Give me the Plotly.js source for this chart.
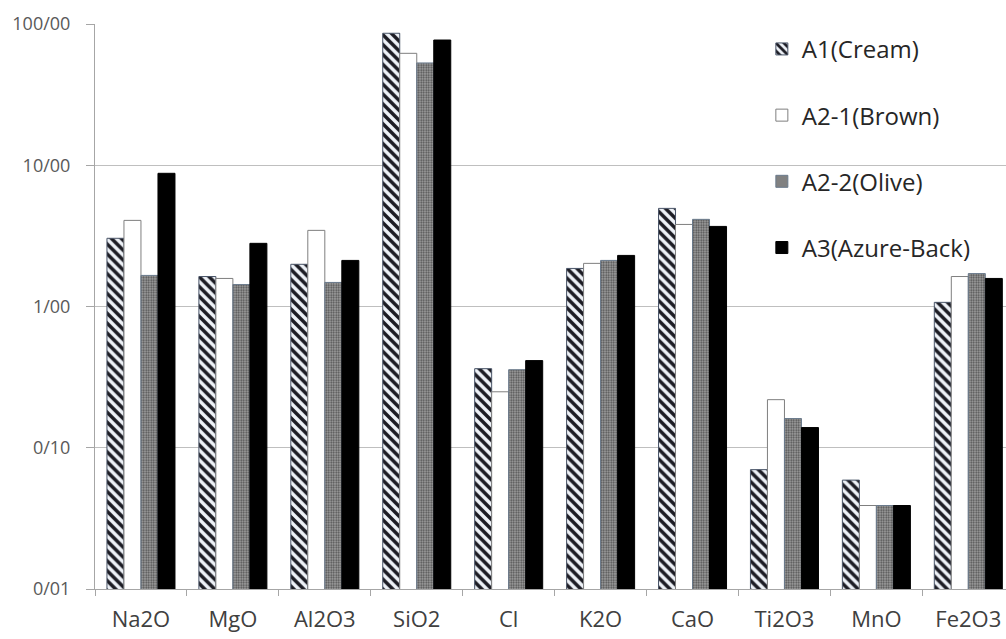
<!DOCTYPE html>
<html>
<head>
<meta charset="utf-8">
<script src="https://cdn.plot.ly/plotly-3.0.1.min.js"></script>
<style>html,body{margin:0;padding:0;background:#fff;}#chart{width:1006px;height:639px;}</style>
</head>
<body>
<div id="chart"></div>
<script>
const categories = ["Na2O", "MgO", "Al2O3", "SiO2", "Cl", "K2O", "CaO", "Ti2O3", "MnO", "Fe2O3"];
const seriesNames = ["A1(Cream)", "A2-1(Brown)", "A2-2(Olive)", "A3(Azure-Back)"];
const a1Cream  = [3.04, 1.63, 1.99, 86.0, 0.363, 1.86, 4.95, 0.070, 0.059, 1.07];
const a21Brown = [4.07, 1.58, 3.46, 62.0, 0.249, 2.02, 3.81, 0.219, 0.039, 1.63];
const a22Olive = [1.66, 1.43, 1.48, 53.0, 0.357, 2.12, 4.14, 0.161, 0.039, 1.71];
const a3Azure  = [8.77, 2.80, 2.12, 77.0, 0.414, 2.30, 3.69, 0.139, 0.039, 1.58];
const yTickVals = [0.01, 0.1, 1, 10, 100];
const yTickText = ["0/01", "0/10", "1/00", "10/00", "100/00"];

const font = "Open Sans, Liberation Sans, sans-serif";
const styles = [
  {color: "#eef2f8", line: {color: "#4a5568", width: 1}, pattern: {shape: "\\", size: 7, solidity: 0.5, fgcolor: "#1c1c24", bgcolor: "#eef2f8", fillmode: "replace"}},
  {color: "#ffffff", line: {color: "#7f7f7f", width: 1}},
  {color: "#858585", line: {color: "#6a7a8c", width: 1}, pattern: {shape: ".", size: 2.5, solidity: 0.45, fgcolor: "#4f4f4f", bgcolor: "#a3a3a3", fillmode: "replace"}},
  {color: "#000000", line: {color: "#000000", width: 1}}
];
const data = [a1Cream, a21Brown, a22Olive, a3Azure].map((vals, i) => ({
  type: "bar",
  name: seriesNames[i],
  x: categories,
  y: vals,
  legendgroup: "g" + i,
  marker: styles[i]
}));

const layout = {
  width: 1006, height: 639,
  margin: {l: 95, r: 0, t: 24, b: 50},
  paper_bgcolor: "#ffffff", plot_bgcolor: "#ffffff",
  barmode: "group", bargap: 0.26, bargroupgap: 0,
  showlegend: true,
  legend: {x: 0.732, xanchor: "left", y: 0.995, yanchor: "top", tracegroupgap: 32,
    font: {family: font, size: 24, color: "#262626"}, bgcolor: "rgba(255,255,255,0)", itemwidth: 30},
  xaxis: {
    type: "category", range: [-0.5, 9.41],
    showline: true, linecolor: "#a6a6a6", linewidth: 1,
    ticks: "outside", tickson: "boundaries", ticklen: 6, tickcolor: "#a6a6a6",
    showgrid: false, tickfont: {family: font, size: 22, color: "#404040"},
    ticklabelstandoff: 11
  },
  yaxis: {
    type: "log", range: [-2, 2],
    tickvals: yTickVals, ticktext: yTickText,
    showline: true, linecolor: "#a6a6a6", linewidth: 1,
    ticks: "outside", ticklen: 8, tickcolor: "#a6a6a6",
    showgrid: true, gridcolor: "#bfbfbf", gridwidth: 1, zeroline: false,
    tickfont: {family: font, size: 18, color: "#595959"},
    ticklabelstandoff: 12
  }
};
Plotly.newPlot("chart", data, layout, {displayModeBar: false, staticPlot: true});
</script>
</body>
</html>
